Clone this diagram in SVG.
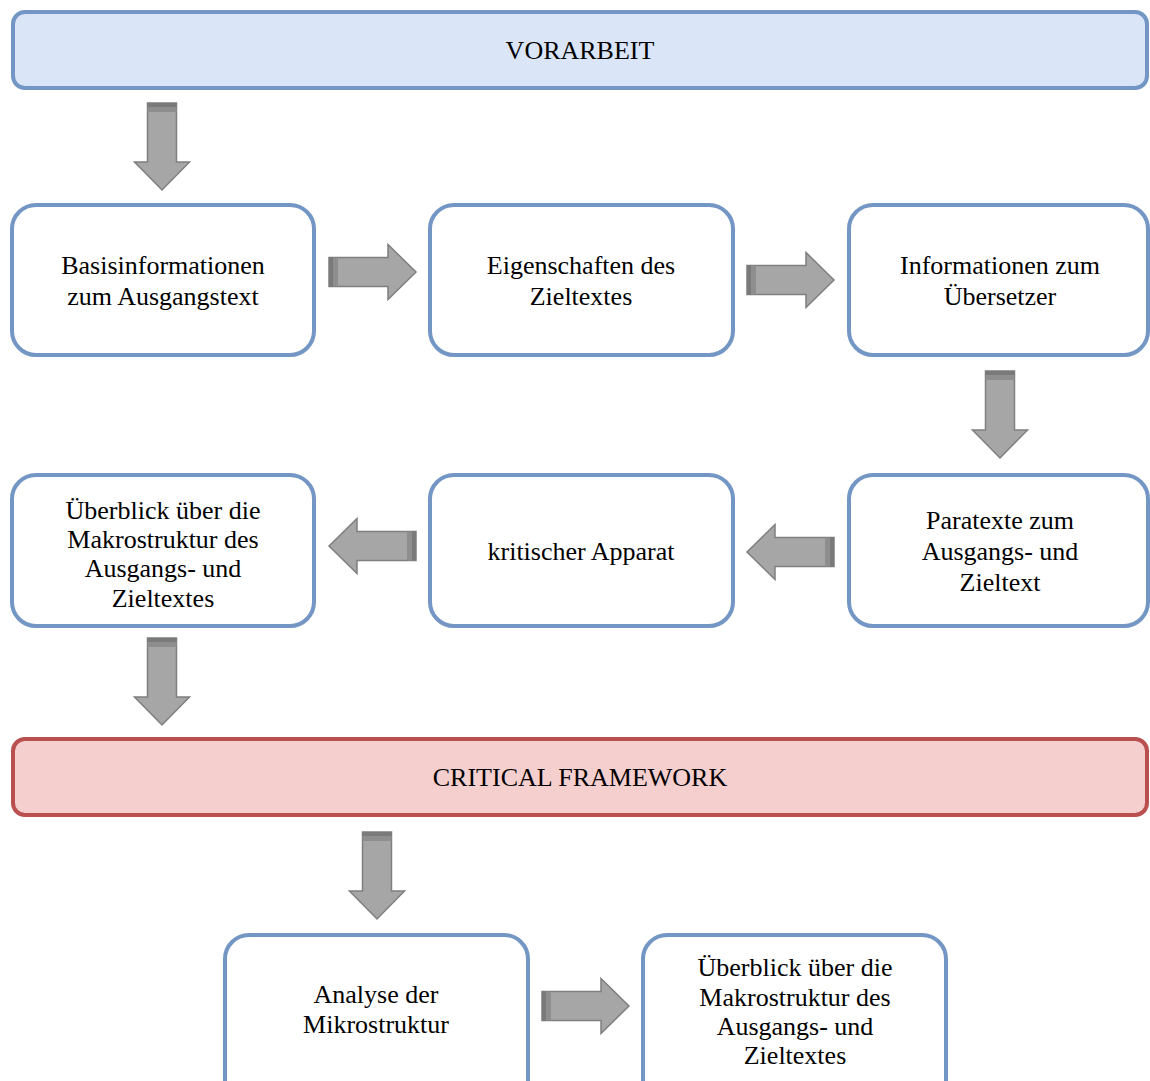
<svg xmlns="http://www.w3.org/2000/svg" xmlns:xlink="http://www.w3.org/1999/xlink" width="1150" height="1081" viewBox="0 0 1150 1081">
<style>
.box{fill:#ffffff;stroke:#7396c4;stroke-width:4}
.ban{fill:#dae6f8;stroke:#7396c4;stroke-width:4}
.banr{fill:#f5cfce;stroke:#b9504f;stroke-width:4}
text{font-family:"Liberation Serif","Times New Roman",serif;font-size:26px;fill:#000;text-anchor:middle}
.ab{fill:#a6a6a6;stroke:#7f7f7f;stroke-width:1.5}
</style>
<defs>
<g id="arr">
<path class="ab" d="M0,-14.5 H59 V-27.5 L87,0 L59,27.5 V14.5 H0 Z"/>
<rect x="0" y="-14.5" width="4" height="29" fill="#7a7a7a"/>
<rect x="4" y="-14.5" width="5" height="29" fill="#8e8e8e"/>
</g>
</defs>
<rect width="1150" height="1081" fill="#ffffff"/>
<g id="connectors">
<use xlink:href="#arr" transform="translate(162,103) rotate(90)"/>
<use xlink:href="#arr" transform="translate(329,272)"/>
<use xlink:href="#arr" transform="translate(747,280)"/>
<use xlink:href="#arr" transform="translate(1000,371) rotate(90)"/>
<use xlink:href="#arr" transform="translate(834,552) rotate(180)"/>
<use xlink:href="#arr" transform="translate(416,546) rotate(180)"/>
<use xlink:href="#arr" transform="translate(162,638) rotate(90)"/>
<use xlink:href="#arr" transform="translate(377,832) rotate(90)"/>
<use xlink:href="#arr" transform="translate(542,1006)"/>
</g>
<g id="vorarbeit"><rect class="ban" x="13" y="12" width="1134" height="76" rx="12"/><text x="580" y="59">VORARBEIT</text></g>
<g id="basis"><rect class="box" x="12" y="205" width="302" height="150" rx="24"/><text x="163" y="274">Basisinformationen</text><text x="163" y="305">zum Ausgangstext</text></g>
<g id="eigenschaften"><rect class="box" x="430" y="205" width="303" height="150" rx="24"/><text x="581" y="274">Eigenschaften des</text><text x="581" y="305">Zieltextes</text></g>
<g id="informationen"><rect class="box" x="849" y="205" width="299" height="150" rx="24"/><text x="1000" y="274">Informationen zum</text><text x="1000" y="305">Übersetzer</text></g>
<g id="paratexte"><rect class="box" x="849" y="475" width="299" height="151" rx="24"/><text x="1000" y="529">Paratexte zum</text><text x="1000" y="560">Ausgangs- und</text><text x="1000" y="591">Zieltext</text></g>
<g id="kritisch"><rect class="box" x="430" y="475" width="303" height="151" rx="24"/><text x="581" y="560">kritischer Apparat</text></g>
<g id="ueberblick1"><rect class="box" x="12" y="475" width="302" height="151" rx="24"/><text x="163" y="519">Überblick über die</text><text x="163" y="548">Makrostruktur des</text><text x="163" y="577">Ausgangs- und</text><text x="163" y="607">Zieltextes</text></g>
<g id="critical"><rect class="banr" x="13" y="739" width="1134" height="76" rx="12"/><text x="580" y="786">CRITICAL FRAMEWORK</text></g>
<g id="analyse"><rect class="box" x="225" y="935" width="303" height="170" rx="24"/><text x="376" y="1003">Analyse der</text><text x="376" y="1033">Mikrostruktur</text></g>
<g id="ueberblick2"><rect class="box" x="643" y="935" width="303" height="170" rx="24"/><text x="795" y="976">Überblick über die</text><text x="795" y="1006">Makrostruktur des</text><text x="795" y="1035">Ausgangs- und</text><text x="795" y="1064">Zieltextes</text></g>
</svg>
